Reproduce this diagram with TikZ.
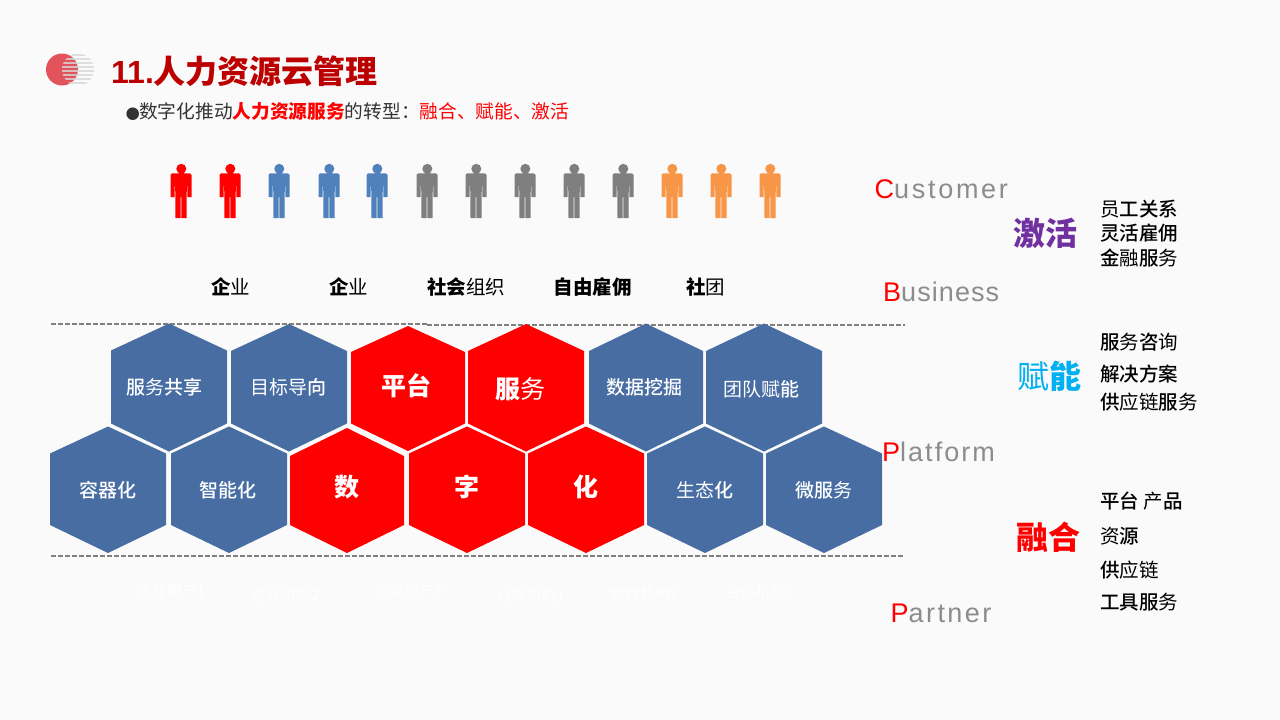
\documentclass[tikz,border=0pt]{standalone}
\usepackage{fontspec}
\setmainfont{Liberation Sans}
\newfontfamily\cjk{Noto Sans CJK SC}[UprightFont=*,BoldFont=* Medium]
\newfontfamily\cjkb{Noto Sans CJK SC}
\newcommand{\fsz}[1]{\fontsize{#1}{#1}\selectfont}
\newcommand{\lt}[1]{{\mdseries #1}}
\newcommand{\spaced}[3]{{\fsz{27}\color{red}#2\color{wordgray}\addfontfeature{LetterSpace=#1}#3}}
\definecolor{bgc}{HTML}{FBFAFB}
\definecolor{hexblue}{HTML}{476DA3}
\definecolor{pblue}{HTML}{4F81BD}
\definecolor{pgray}{HTML}{7F7F7F}
\definecolor{porange}{HTML}{F79646}
\definecolor{titlered}{HTML}{BC0000}
\definecolor{wordgray}{HTML}{8C8C8C}
\definecolor{dashc}{HTML}{808080}
\definecolor{logored}{HTML}{E2535B}
\definecolor{logogray}{HTML}{D8D8D8}
\tikzset{
  x=1pt,y=-1pt,
  hexlabel/.style={inner sep=0pt,text=white,font=\cjk\bfseries\fsz{19}},
  hexbig/.style={inner sep=0pt,text=white,font=\cjkb\bfseries\fsz{25}},
  toplabel/.style={inner sep=0pt,text=black,font=\cjkb\bfseries\fsz{19.5}},
  listitem/.style={inner sep=0pt,anchor=west,text=black,font=\cjk\bfseries\fsz{19.5}},
  headword/.style={inner sep=0pt,font=\cjkb\bfseries\fsz{32}},
  ghost/.style={inner sep=0pt,text=white,font=\cjk\fsz{15}},
  dashline/.style={draw=dashc,line width=1.5pt,dash pattern=on 5pt off 2pt},
  word/.style={inner sep=0pt,anchor=west},
}
\newcommand{\hexa}[7]{\fill[#7] (#1,#5) -- (#1,#4) -- ({(#1+#2)/2},#3) -- (#2,#4) -- (#2,#5) -- ({(#1+#2)/2},#6) -- cycle;}
\newcommand{\person}[2]{%
  \begin{scope}[shift={(#1,0)}]
  \fill[#2] (0.3,168.8) circle (5);
  \fill[#2] (-2.2,171) rectangle (2.8,174);
  \fill[#2] (-9,173.3) -- (9,173.3) -- (10.5,175) -- (10.5,197) -- (6.4,197) -- (6.4,186) -- (5.8,186) -- (5.5,218) -- (0.3,218) -- (0.3,197) -- (-0.3,197) -- (-0.3,218) -- (-5.5,218) -- (-5.8,186) -- (-6.4,186) -- (-6.4,197) -- (-10.5,197) -- (-10.5,175) -- cycle;
  \end{scope}}
\begin{document}
\begin{tikzpicture}
\useasboundingbox (0,0) rectangle (1280,720);
\fill[bgc] (0,0) rectangle (1280,720);

% logo
\fill[logored] (62,69.5) circle (16);
\begin{scope}
  \clip (78,69.5) circle (16);
  \foreach \yy in {53.5,57.5,...,85.5} {
    \fill[logogray,opacity=.8] (60,\yy) rectangle (96,\yy+2.2);
    }
\end{scope}

% title
\node[inner sep=0pt,anchor=west,text=titlered,font=\cjkb\bfseries\fsz{32}] (title) at (111,71) {{\fontspec{Liberation Sans}\bfseries 11.}人力资源云管理};
\node[inner sep=0pt,anchor=west,font=\cjk\fsz{18.7},text=black!80] (subtitle) at (125.5,111.5) {{\fontspec{DejaVu Sans}\fsz{16.5}\raisebox{0.5pt}{●}}\hspace{-0.8pt}数字化推动{\cjkb\bfseries\color{red}人力资源服务}的转型：{\color{red}融合、赋能、激活}};

% people
\person{181}{red}\person{230}{red}
\person{279}{pblue}\person{329}{pblue}\person{377}{pblue}
\person{427}{pgray}\person{476}{pgray}\person{525}{pgray}\person{574}{pgray}\person{623}{pgray}
\person{672}{porange}\person{721}{porange}\person{770}{porange}

% top labels
\node[toplabel] (t1) at (230.5,287) {企\lt{业}};
\node[toplabel] (t2) at (348.5,287) {企\lt{业}};
\node[toplabel] (t3) at (466,287) {社会\lt{组织}};
\node[toplabel] (t4) at (592.5,287) {自由雇佣};
\node[toplabel] (t5) at (705.5,287) {社\lt{团}};

% dashed rules
\coordinate (d1) at (51,324);
\coordinate (d2) at (427,324);
\coordinate (d3) at (427,325);
\coordinate (d4) at (904.5,325);
\coordinate (d5) at (51,556);
\coordinate (d6) at (904.5,556);
\draw[dashline] (d1) -- (d2);
\draw[dashline] (d3) -- (d4);
\draw[dashline] (d5) -- (d6);

% hexagons upper row
\hexa{111}{227}{323.5}{350.5}{423.5}{451.5}{hexblue}
\hexa{231}{347}{324}{351}{423.5}{451.5}{hexblue}
\hexa{351}{465}{326}{352}{423.5}{451}{red}
\hexa{468}{584}{324}{351}{423.5}{451.5}{red}
\hexa{589}{703}{323.5}{351}{423.5}{451.5}{hexblue}
\hexa{706}{822}{323.5}{351}{423.5}{451.5}{hexblue}
% hexagons lower row
\hexa{50}{166}{426.5}{453.5}{525}{553}{hexblue}
\hexa{171}{287}{426.5}{453.5}{525}{553}{hexblue}
\hexa{290}{404}{428}{456}{525}{553}{red}
\hexa{409}{525}{426.5}{453.5}{525}{553}{red}
\hexa{528}{644}{426.5}{453.5}{525}{553}{red}
\hexa{647}{763}{426.5}{453.5}{525}{553}{hexblue}
\hexa{766}{882}{426.5}{453.5}{525}{553}{hexblue}

\node[hexlabel] (h1) at (164.5,387) {服\lt{务}共享};
\node[hexlabel] (h2) at (288.5,387) {\lt{目标导}向};
\node[hexbig] (h3) at (406.5,386) {平台};
\node[hexbig] (h4) at (520.5,389) {服\lt{务}};
\node[hexlabel] (h5) at (644,387) {数据挖掘};
\node[hexlabel] (h6) at (761,389) {\lt{团队赋}能};
\node[hexlabel] (h7) at (108,490) {容器化};
\node[hexlabel] (h8) at (228,490) {智能化};
\node[hexbig] (h9) at (347,487) {数};
\node[hexbig] (h10) at (467,487) {字};
\node[hexbig] (h11) at (586,487) {化};
\node[hexlabel] (h12) at (704.5,490) {\lt{生态}化};
\node[hexlabel] (h13) at (824,490) {微服\lt{务}};

% ghost labels
\node[ghost] (g1) at (171,591) {企业用户1};
\node[ghost] (g2) at (285,595) {企业用户2};
\node[ghost] (g3) at (408.5,591) {企业用户3};
\node[ghost] (g4) at (531,596) {合作机构1};
\node[ghost] (g5) at (644.5,594) {合作机构2};
\node[ghost] (g6) at (760,592) {合作机构3};

% letter words
\node[word] (w1) at (874.5,189.5) {\spaced{10}{C}{ustomer}};
\node[word] (w2) at (883,292) {\spaced{4}{B}{usiness}};
\node[word] (w3) at (882,452) {\spaced{7.5}{P}{latform}};
\node[word] (w4) at (890.5,613) {\spaced{9}{P}{artner}};

% head words
\node[headword,text={rgb,255:red,112;green,48;blue,160}] (k1) at (1045.5,233) {激活};
\node[headword,text={rgb,255:red,0;green,176;blue,240}] (k2) at (1049.5,376) {\lt{赋}能};
\node[headword,text=red] (k3) at (1048,537) {融合};

% lists
\node[listitem] (l1) at (1100,209) {\lt{员}工关系};
\node[listitem] (l2) at (1100,233) {灵活雇佣};
\node[listitem] (l3) at (1100,258) {金\lt{融}服\lt{务}};
\node[listitem] (l4) at (1100,342) {服\lt{务}咨\lt{询}};
\node[listitem] (l5) at (1100,374) {解决方案};
\node[listitem] (l6) at (1100,402) {供\lt{应链}服\lt{务}};
\node[listitem] (l7) at (1100,501) {平台 \lt{产}品};
\node[listitem] (l8) at (1100,536) {\lt{资}源};
\node[listitem] (l9) at (1100,570) {供\lt{应链}};
\node[listitem] (l10) at (1100,602) {工具服\lt{务}};
\end{tikzpicture}
\end{document}
